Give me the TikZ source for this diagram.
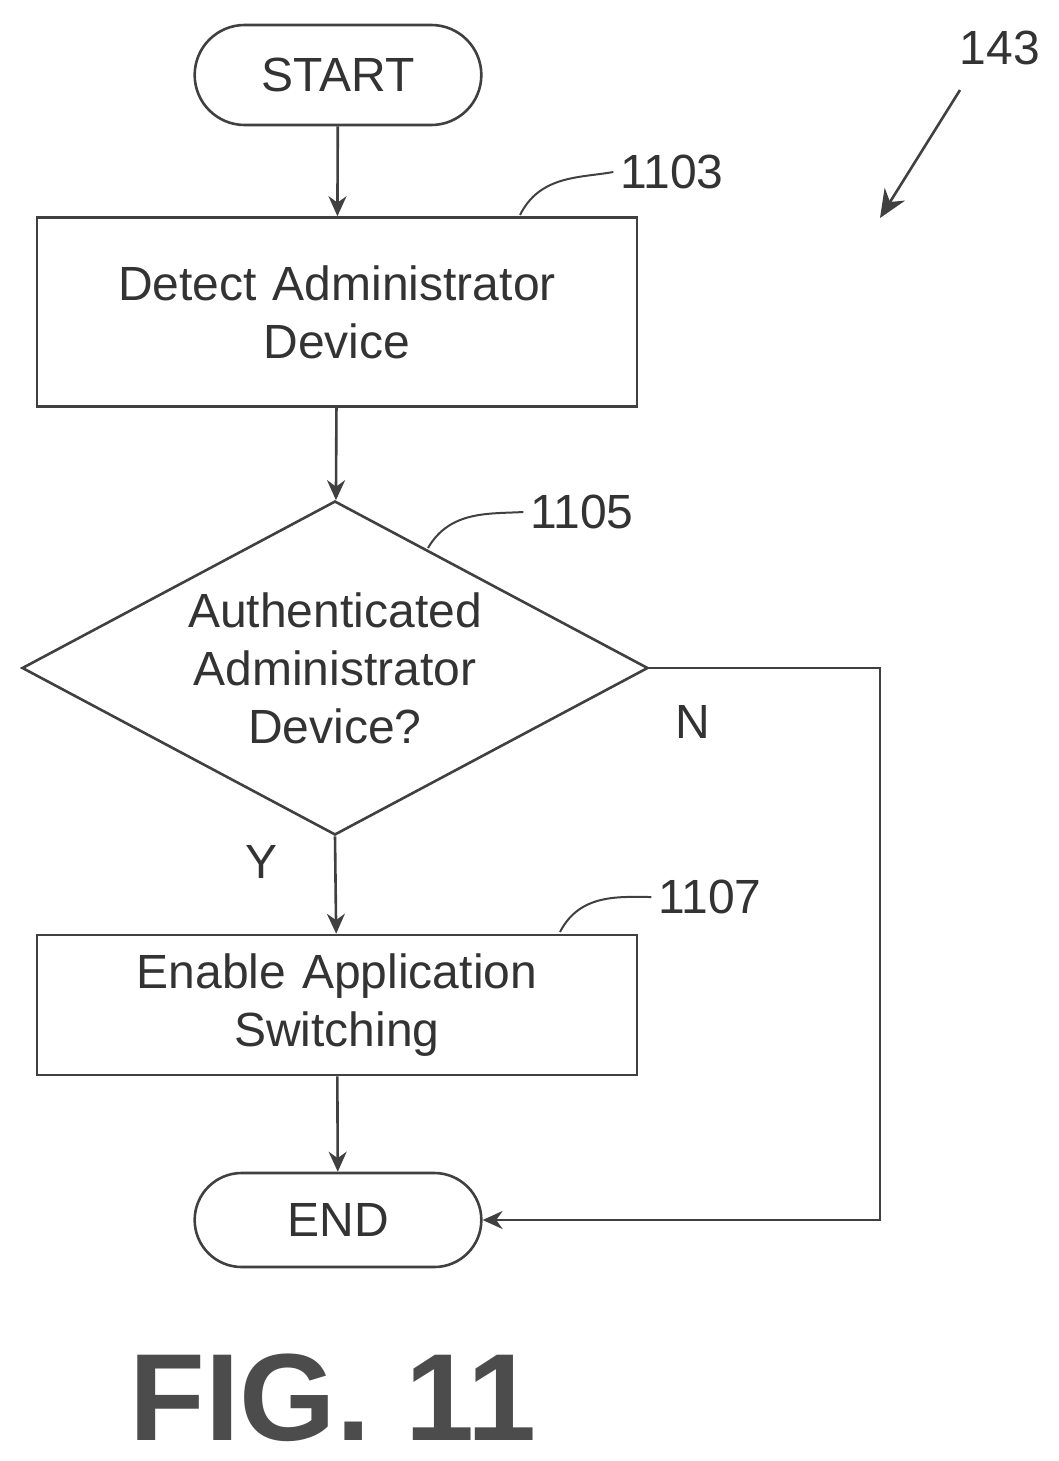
\documentclass[tikz,border=0pt]{standalone}
\usepackage{fontspec}
\setmainfont{Liberation Sans}
\usetikzlibrary{arrows.meta,shapes.geometric,shapes.misc}
\begin{document}
\begin{tikzpicture}[x=0.5pt, y=-0.5pt,
every node/.style={font=\fontsize{24}{29}\selectfont, text=black!80},
line/.style={draw=black!75, line width=1.3pt},
block/.style={line, rectangle, minimum width=300pt, text width=280pt, align=center},
term/.style={line, rounded rectangle, minimum width=150pt, minimum height=50pt},
decision/.style={line, diamond, minimum width=313pt, minimum height=167pt, inner sep=0pt, aspect=1.87},
arr/.style={line, -{Stealth[length=10pt,width=9pt]}},
ref/.style={line, line width=1pt}
]
\useasboundingbox (0,0) rectangle (1059,1461);

\node[term] (start) at (338,75) {START};
\node[block, minimum height=94.5pt] (detect) at (337,312) {Detect Administrator\\Device};
\node[decision] (auth) at (335,668) {};
\node[align=center] (authtext) at (335,668) {Authenticated\\Administrator\\Device?};
\node[block, minimum height=70pt] (enable) at (337,1005) {Enable Application\\Switching};
\node[term, minimum height=47pt] (end) at (338,1220) {END};
\coordinate (c1) at (880,668);
\coordinate (c2) at (880,1220);

\draw[arr] (start)--(detect);
\draw[arr] (detect)--(auth);
\draw[arr] (auth.south)--(enable);
\draw[arr] (enable)--(end);
\draw[arr] (auth.east)--(c1)--(c2)--(end.east);

\node at (262,862) {Y};
\node at (693,722) {N};

% reference numerals
\node (n1103) at (672,172) {1103};
\node (n1105) at (582,512) {1105};
\node (n1107) at (710,897) {1107};
\node (n143) at (1000,48) {143};
\draw[ref] (520,215) .. controls (540,175) and (580,178) .. (n1103.west);
\draw[ref] (428,548) .. controls (450,510) and (490,514) .. (n1105.west);
\draw[ref] (560,932) .. controls (580,893) and (620,897) .. (n1107.west);
\coordinate (a143) at (880,218);
\draw[line, -{Stealth[length=14pt,width=12pt]}] (960,90) -- (a143);

\node[font=\fontsize{62}{70}\selectfont\bfseries, text=black!70] (fig) at (333,1398) {FIG. 11};
\end{tikzpicture}
\end{document}
